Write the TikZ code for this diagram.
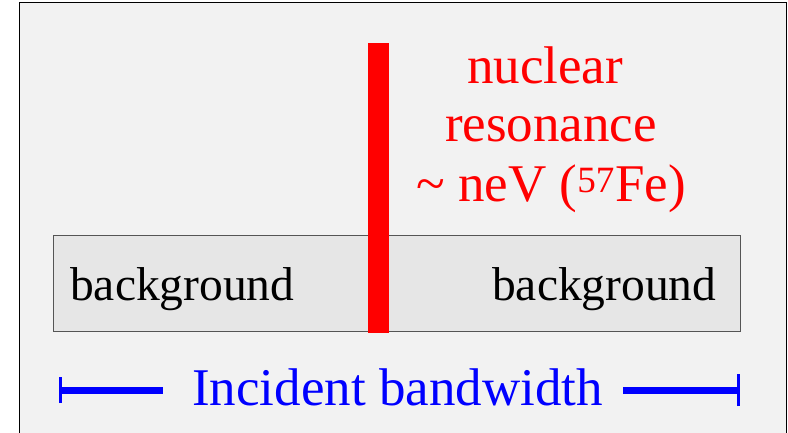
\documentclass[tikz,border=0pt]{standalone}
\usepackage{fontspec}
\setmainfont{Liberation Serif}
\begin{document}
\begin{tikzpicture}[x=1pt,y=-1pt,
  frame/.style={draw=black,line width=1.6pt,fill=outerbg},
  bgbox/.style={draw=boxline,line width=1pt,fill=boxfill},
  bartxt/.style={font=\fontsize{47.5}{47.5}\selectfont,inner sep=0pt,text=black},
  redtxt/.style={font=\fontsize{53}{59}\selectfont,inner sep=0pt,text=red,align=center},
  bluetxt/.style={font=\fontsize{53}{53}\selectfont,inner sep=0pt,text=blue},
  bwline/.style={draw=blue,line width=7pt},
  bwtick/.style={draw=blue,line width=3pt}]
\definecolor{outerbg}{HTML}{F2F2F2}
\definecolor{boxfill}{HTML}{E6E6E6}
\definecolor{boxline}{HTML}{555555}
\useasboundingbox (0,0) rectangle (788,433);
\begin{scope}
\clip (0,0) rectangle (788,433);
\draw[frame] (19.5,2.5) rectangle (786.5,445);
\end{scope}
\draw[bgbox] (53,236) rectangle (740,331);
\fill[red] (368,43) rectangle (389,333);
\node[bartxt,anchor=base west] (bgl) at (70,300) {background};
\node[bartxt,anchor=base west] (bgr) at (492,300) {background};
\node[redtxt,anchor=base] (nuc) at (545,84) {nuclear};
\node[redtxt,anchor=base] (res) at (551,142) {resonance};
\node[redtxt,anchor=base] (nev) at (551,202) {\textasciitilde{} neV (\textsuperscript{57}Fe)};
\node[bluetxt,anchor=base west] (inc) at (192,405) {Incident bandwidth};
\coordinate (la) at (60,390);
\coordinate (lb) at (163,390);
\coordinate (ra) at (623,390);
\coordinate (rb) at (738,390);
\draw[bwline] (la) -- (lb);
\draw[bwline] (ra) -- (rb);
\draw[bwtick] ([yshift=-13pt]la) -- ([yshift=13pt]la);
\draw[bwtick] ([yshift=-16pt]rb) -- ([yshift=16pt]rb);
\end{tikzpicture}
\end{document}
